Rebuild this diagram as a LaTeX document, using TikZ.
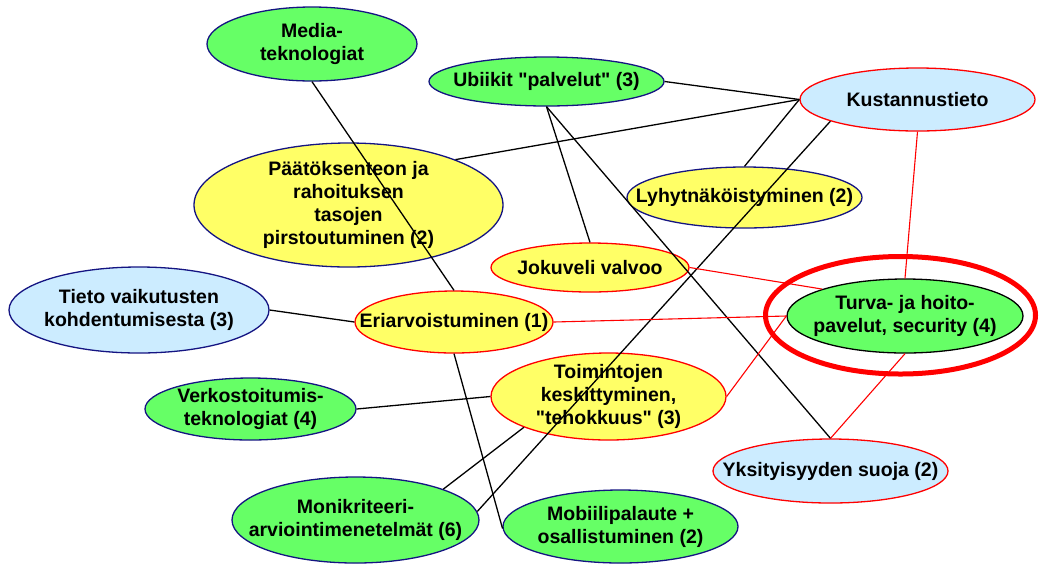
\documentclass[tikz,border=0pt]{standalone}
\usepackage{fontspec}
% no TeX input mapping, so " stays a straight quote
\setmainfont{Liberation Sans}[Ligatures=TeXOff]
\usetikzlibrary{shapes.geometric}
\definecolor{leaf}{HTML}{66FF66}
\definecolor{sun}{HTML}{FFFF66}
\definecolor{sky}{HTML}{CCECFF}
\definecolor{ink}{RGB}{20,20,130}
\begin{document}
\begin{tikzpicture}[x=1pt,y=-1pt,
  ell/.style={ellipse, inner sep=0pt, line width=1.3pt},
  txt/.style={align=center, font=\bfseries\fontsize{19.5}{23}\selectfont, inner sep=0pt},
  conn/.style={line width=1.3pt, black},
  rconn/.style={line width=1.1pt, red}]
\useasboundingbox (0,0) rectangle (1040,566);
\fill[white] (0,0) rectangle (1040,566);

% highlight ring round the security topic
\node[ellipse, draw=red, line width=5pt, inner sep=0pt,
      minimum width=270pt, minimum height=117.5pt] (ring) at (900.5,315.25) {};

% topics
\node[ell, fill=leaf, draw=ink, minimum width=210pt, minimum height=74pt,
      label={[txt]center:Media-\\teknologiat}] (media) at (312,44) {};
\node[ell, fill=leaf, draw=ink, minimum width=235pt, minimum height=49pt,
      label={[txt]center:Ubiikit "palvelut" (3)}] (ubi) at (546.5,81.5) {};
\node[ell, fill=sun, draw=ink, minimum width=309pt, minimum height=124pt,
      label={[txt]center:Päätöksenteon ja\\rahoituksen\\tasojen\\pirstoutuminen (2)}] (paat) at (348.5,205) {};
\node[ell, fill=sky, draw=red, minimum width=235pt, minimum height=63pt,
      label={[txt]center:Kustannustieto}] (kust) at (917.5,99.5) {};
\node[ell, fill=sun, draw=ink, minimum width=235pt, minimum height=61pt,
      label={[txt]center:Lyhytnäköistyminen (2)}] (lyhyt) at (744.5,197.5) {};
\node[ell, fill=sun, draw=red, minimum width=198pt, minimum height=49pt,
      label={[txt]center:Jokuveli valvoo}] (joku) at (590,267.5) {};
\node[ell, fill=sky, draw=ink, minimum width=260pt, minimum height=86pt,
      label={[txt]center:Tieto vaikutusten\\kohdentumisesta (3)}] (tieto) at (139,310) {};
\node[ell, fill=sun, draw=red, minimum width=198pt, minimum height=62pt,
      label={[txt]center:Eriarvoistuminen (1)}] (eri) at (454,322) {};
\node[ell, fill=leaf, draw=black, minimum width=236pt, minimum height=74pt,
      label={[txt]center:Turva- ja hoito-\\pavelut, security (4)}] (turva) at (905,316) {};
\node[ell, fill=sun, draw=red, minimum width=235pt, minimum height=87pt,
      label={[txt]center:Toimintojen\\keskittyminen,\\"tehokkuus" (3)}] (toim) at (608.5,396.5) {};
\node[ell, fill=leaf, draw=ink, minimum width=211pt, minimum height=62pt,
      label={[txt]center:Verkostoitumis-\\teknologiat (4)}] (verk) at (250.5,409) {};
\node[ell, fill=leaf, draw=ink, minimum width=247pt, minimum height=86pt,
      label={[txt]center:Monikriteeri-\\arviointimenetelmät (6)}] (moni) at (355.5,520) {};
\node[ell, fill=leaf, draw=ink, minimum width=235pt, minimum height=73pt,
      label={[txt]center:Mobiilipalaute +\\osallistuminen (2)}] (mobi) at (620.5,526.5) {};
\node[ell, fill=sky, draw=red, minimum width=235pt, minimum height=64pt,
      label={[txt]center:Yksityisyyden suoja (2)}] (yks) at (830.5,471) {};

% black links
\draw[conn] (media.south) -- (eri.north);
\draw[conn] (ubi.east) -- (kust.west);
\draw[conn] (paat.23) -- (kust.west);
\draw[conn] (ubi.south) -- (joku.north);
\draw[conn] (ubi.south) -- (yks.north);
\draw[conn] (kust.west) -- (lyhyt.north);
\draw[conn] (kust.194) -- (moni.4);
\draw[conn] (tieto.east) -- (eri.west);
\draw[conn] (verk.east) -- (toim.west);
\draw[conn] (moni.north east) -- (toim.200);
\draw[conn] (eri.south) -- (mobi.181);

% red links to the security topic
\draw[rconn] (eri.east) -- (turva.west);
\draw[rconn] (joku.east) -- (turva.162);
\draw[rconn] (kust.south) -- (turva.north);
\draw[rconn] (toim.east) -- (turva.west);
\draw[rconn] (turva.south) -- (yks.north);
\end{tikzpicture}
\end{document}
